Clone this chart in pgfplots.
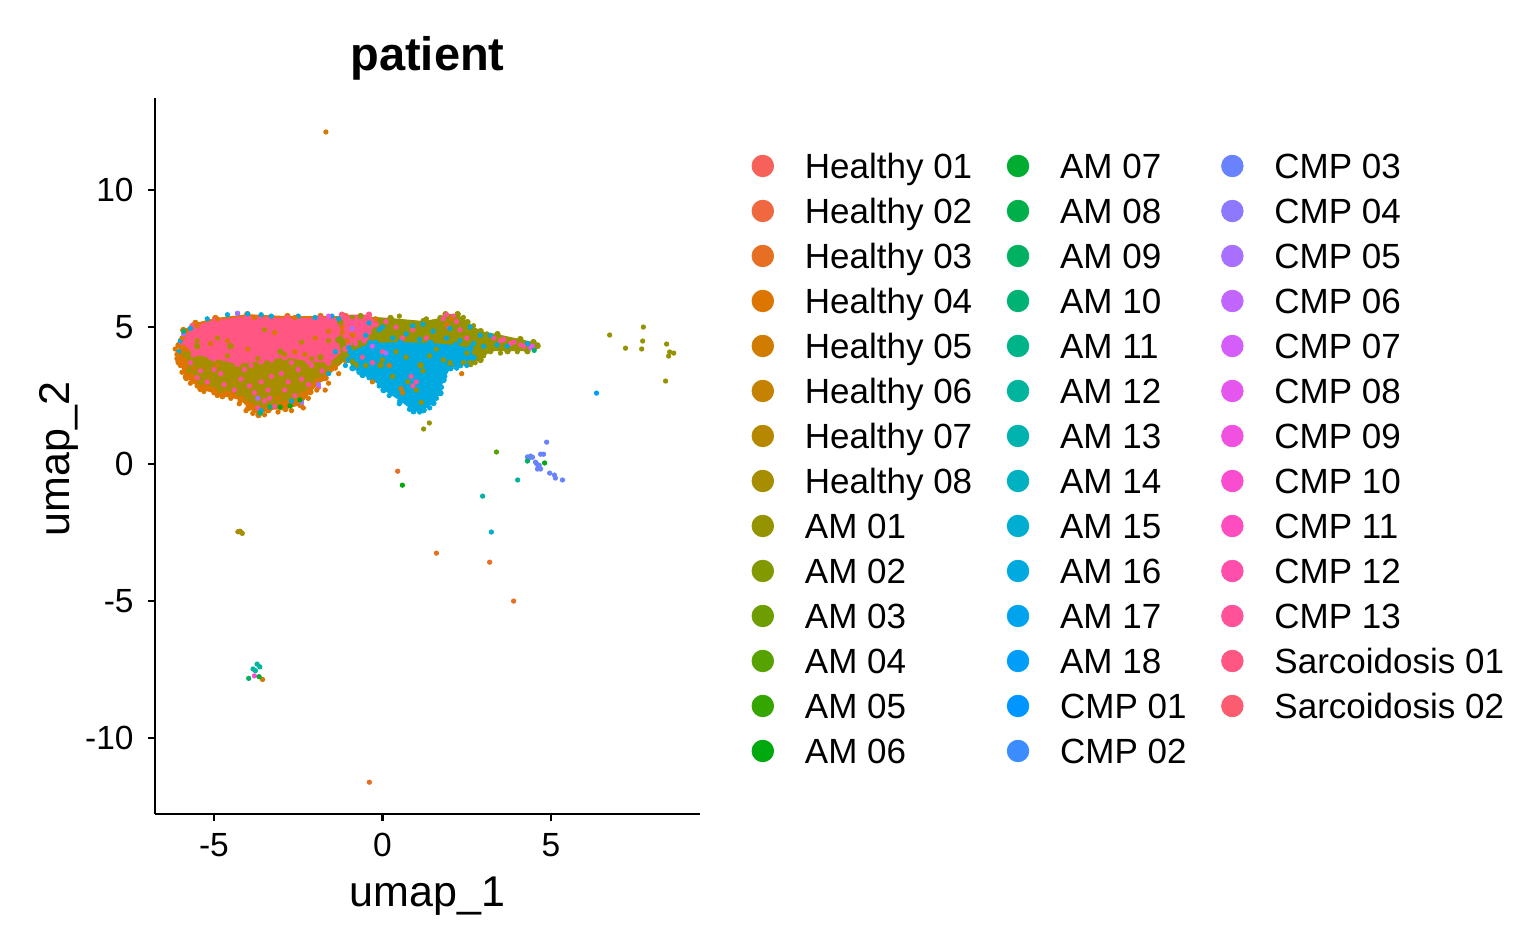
\documentclass[border=0pt]{standalone}
\usepackage{fontspec}
\setmainfont{Liberation Sans}
\usepackage{pgfplots}
\pgfplotsset{compat=1.18}

% ggplot2 hue palette (hcl, l=65, c=100), 41 levels, with the reference's darker rendering
\newcommand\mkhue[2]{%
  \pgfmathsetmacro\hclU{100*cos(#2)}%
  \pgfmathsetmacro\hclV{100*sin(#2)}%
  \pgfmathsetmacro\hclup{\hclU/845+0.19784}%
  \pgfmathsetmacro\hclvp{\hclV/845+0.46834}%
  \pgfmathsetmacro\hclX{0.34047*9*\hclup/(4*\hclvp)}%
  \pgfmathsetmacro\hclZ{0.34047*(12-3*\hclup-20*\hclvp)/(4*\hclvp)}%
  \pgfmathsetmacro\hclR{3.2406*\hclX-1.5372*0.34047-0.4986*\hclZ}%
  \pgfmathsetmacro\hclG{-0.9689*\hclX+1.8758*0.34047+0.0415*\hclZ}%
  \pgfmathsetmacro\hclB{0.0557*\hclX-0.2040*0.34047+1.0570*\hclZ}%
  \pgfmathsetmacro\hclR{min(1,pow(max(0.0001,1.055*pow(max(\hclR,0.0001),1/2.4)-0.055),1.25))}%
  \pgfmathsetmacro\hclG{min(1,pow(max(0.0001,1.055*pow(max(\hclG,0.0001),1/2.4)-0.055),1.25))}%
  \pgfmathsetmacro\hclB{min(1,pow(max(0.0001,1.055*pow(max(\hclB,0.0001),1/2.4)-0.055),1.25))}%
  \edef\hcltmp{\noexpand\definecolor{#1}{rgb}{\hclR,\hclG,\hclB}}\hcltmp
}
\pgfplotsforeachungrouped \i in {1,...,41}{%
  \pgfmathsetmacro\hh{15+(\i-1)*360/41}%
  \mkhue{c\i}{\hh}%
}

\pgfplotsset{
  dots/.style={forget plot, only marks, mark=*, mark size=1.1pt, color=#1},
  blob/.style={forget plot, fill=#1, draw=none, mark=*, mark size=1.4pt, mark options={color=#1}},
}
\newcommand\legitem[2]{\addlegendimage{color=#1}\addlegendentry{#2}}

\begin{document}
\begin{tikzpicture}
\useasboundingbox (0,0) rectangle (770pt,475.5pt);
\begin{axis}[
  at={(77.5pt,68.5pt)}, anchor=south west,
  scale only axis, width=272.5pt, height=358pt,
  xmin=-6.75, xmax=9.42, ymin=-12.77, ymax=13.36,
  axis x line*=bottom, axis y line*=left,
  axis line style={-, line width=1.25pt, black},
  xtick={-5,0,5}, ytick={-10,-5,0,5,10},
  tick align=outside, major tick length=3.5pt,
  tick style={line width=1.25pt, black},
  /pgf/number format/assume math mode=true,
  ticklabel style={font=\fontsize{16.75}{20}\selectfont, inner sep=0pt},
  xticklabel style={anchor=north}, xticklabel shift=6pt,
  yticklabel style={anchor=east}, yticklabel shift=7pt,
  title={patient},
  title style={at={(axis description cs:0.5,1.0223)}, anchor=base, font=\bfseries\fontsize{23.5}{28}\selectfont, inner sep=0pt},
  xlabel={umap\_1},
  xlabel style={at={(axis description cs:0.5,-0.1295)}, anchor=base, font=\fontsize{21.5}{26}\selectfont, inner sep=0pt},
  ylabel={umap\_2},
  ylabel style={at={(axis description cs:-0.156,0.496)}, anchor=base, font=\fontsize{21.5}{26}\selectfont, inner sep=0pt},
  legend columns=3,
  legend image code/.code={\fill[#1] (5.4pt,6.25pt) circle (5.4pt);},
  legend style={at={(axis description cs:1.0947,0.9225)}, anchor=north west,
    draw=none, fill=none, inner sep=0pt, outer sep=0pt,
    row sep=6.5pt,
    /tikz/every odd column/.append style={column sep=15.45pt},
    /tikz/every even column/.append style={column sep=17.3pt},
    cells={anchor=base west},
    nodes={inner sep=0pt, text height=12.5pt, text depth=3.5pt, font=\fontsize{17.5}{21}\selectfont}},
]
% ---- legend (column-major order of the original, written row by row)
\legitem{c1}{Healthy 01}\legitem{c15}{AM 07}\legitem{c29}{CMP 03}
\legitem{c2}{Healthy 02}\legitem{c16}{AM 08}\legitem{c30}{CMP 04}
\legitem{c3}{Healthy 03}\legitem{c17}{AM 09}\legitem{c31}{CMP 05}
\legitem{c4}{Healthy 04}\legitem{c18}{AM 10}\legitem{c32}{CMP 06}
\legitem{c5}{Healthy 05}\legitem{c19}{AM 11}\legitem{c33}{CMP 07}
\legitem{c6}{Healthy 06}\legitem{c20}{AM 12}\legitem{c34}{CMP 08}
\legitem{c7}{Healthy 07}\legitem{c21}{AM 13}\legitem{c35}{CMP 09}
\legitem{c8}{Healthy 08}\legitem{c22}{AM 14}\legitem{c36}{CMP 10}
\legitem{c9}{AM 01}\legitem{c23}{AM 15}\legitem{c37}{CMP 11}
\legitem{c10}{AM 02}\legitem{c24}{AM 16}\legitem{c38}{CMP 12}
\legitem{c11}{AM 03}\legitem{c25}{AM 17}\legitem{c39}{CMP 13}
\legitem{c12}{AM 04}\legitem{c26}{AM 18}\legitem{c40}{Sarcoidosis 01}
\legitem{c13}{AM 05}\legitem{c27}{CMP 01}\legitem{c41}{Sarcoidosis 02}
\legitem{c14}{AM 06}\legitem{c28}{CMP 02}

% ---- dense cell cloud (areas)
\addplot[blob=c4] coordinates {(-6.05,4.34) (-5.91,4.89) (-5.55,5.15) (-4.96,5.33) (-4.01,5.47) (-2.82,5.40) (-1.84,5.40) (-1.10,5.40) (-0.89,4.71) (-1.10,3.80) (-1.69,3.14) (-2.14,2.63) (-2.43,2.15) (-2.88,2.01) (-3.38,1.97) (-3.68,1.79) (-3.98,2.04) (-4.21,2.34) (-4.75,2.48) (-5.40,2.74) (-5.82,3.14) (-6.05,3.72)};
\addplot[blob=c8] coordinates {(-5.85,4.0) (-5.5,4.3) (-4.51,4.3) (-3.03,4.1) (-1.84,3.9) (-1.25,3.9) (-1.31,3.72) (-1.84,3.25) (-2.28,2.77) (-2.58,2.41) (-3.18,2.23) (-3.68,2.04) (-3.98,2.34) (-4.27,2.59) (-4.81,2.70) (-5.40,2.99) (-5.73,3.43)};
\addplot[blob=c40] coordinates {(-5.95,4.45) (-5.64,5.04) (-4.96,5.26) (-4.01,5.40) (-2.82,5.33) (-1.84,5.33) (-1.10,5.33) (-0.89,4.89) (-1.10,4.2) (-1.6,3.7) (-2.2,3.75) (-2.9,3.9) (-3.6,3.75) (-4.3,3.65) (-5.0,3.85) (-5.6,4.0)};
\addplot[blob=c9] coordinates {(-1.25,5.18) (-0.65,5.40) (0.24,5.33) (1.22,5.22) (1.72,5.33) (1.87,5.47) (2.23,5.47) (2.52,5.18) (2.91,4.85) (3.41,4.74) (4.09,4.56) (4.48,4.45) (4.60,4.31) (4.30,4.12) (3.71,4.12) (3.20,4.12) (2.91,3.80) (2.61,3.65) (2.02,3.58) (1.13,3.61) (-0.06,3.61) (-0.80,3.61) (-1.19,3.87) (-1.31,4.53)};
\addplot[blob=c40] coordinates {(-1.2,5.45) (-0.4,5.45) (-0.2,5.1) (-0.5,4.6) (-1.0,4.4) (-1.3,4.8)};
\addplot[blob=c24] coordinates {(-0.95,4.09) (-0.36,4.42) (0.53,4.45) (1.42,4.42) (2.17,4.34) (2.61,4.23) (2.70,3.87) (2.31,3.61) (2.02,3.50) (1.81,3.07) (1.72,2.59) (1.51,2.23) (1.22,1.97) (0.92,1.93) (0.53,2.30) (0.03,2.70) (-0.27,3.07) (-0.59,3.25) (-0.89,3.50) (-1.01,3.80)};

% ---- individual cells
\addplot[dots=c7] coordinates {(-5.3,3.55) (-4.6,3.95) (-3.7,3.85) (-2.9,4.0) (-2.1,3.85) (-4.9,4.6) (-3.5,4.9) (-2.4,4.45) (-5.5,4.5) (-1.6,4.5) (-4.4,3.0) (-3.0,2.5) (-5.1,3.2)};
\addplot[dots=c9] coordinates {(0.3,3.2) (1.0,2.7) (1.8,3.8) (2.4,3.7) (0.0,3.8) (0.7,3.9) (1.4,3.95) (2.0,3.7) (-0.5,3.6) (1.2,3.4) (2.8,4.85) (3.1,4.75) (4.6,4.35) (4.5,4.2) (-0.9,3.75) (0.4,4.1) (1.6,4.2) (2.5,4.05) (1.15,2.25) (0.75,3.0) (3.0,3.95) (2.75,3.7) (3.5,4.05) (4.0,4.1) (-0.9,5.35) (0.5,5.4) (1.3,5.3) (2.4,5.35) (2.7,5.05)
 (6.74,4.71) (7.74,5.0) (7.21,4.23) (7.72,4.49) (7.69,4.20) (8.43,4.38) (8.52,4.09) (8.64,4.05) (8.49,3.94) (8.40,3.03) (1.39,1.50) (1.22,1.28)};
\addplot[dots=c8] coordinates {(-4.23,-2.45) (-4.16,-2.53) (-4.29,-2.47) (-4.2,-2.49)};
\addplot[dots=c39] coordinates {(-5.7,3.7) (-5.4,3.4) (-5.1,3.9) (-4.8,3.3) (-4.5,3.8) (-4.2,3.1) (-3.9,3.6) (-3.6,3.0) (-3.3,3.8) (-3.0,3.3) (-2.7,3.7) (-2.4,3.1) (-2.1,3.6) (-1.8,3.4) (-5.2,3.0) (-4.7,2.9) (-3.8,2.6) (-3.5,2.3) (-3.2,2.1) (-3.7,2.05) (-2.9,2.7) (-2.6,2.5) (-4.4,2.7) (-1.5,3.9) (-3.4,2.7) (-2.2,2.9) (-1.9,2.8) (-5.0,3.45) (-4.1,3.45) (-3.3,3.2) (-2.5,3.45) (-3.95,2.85) (-3.35,2.4) (-2.8,3.0) (-5.5,3.15)
 (-0.9,5.2) (-0.6,5.1) (-0.3,5.25) (-0.7,4.9) (-1.0,4.6) (-0.4,4.8) (-0.8,4.4) (0.1,5.2) (0.4,5.0) (0.9,4.9) (1.3,4.6) (1.8,5.3) (1.9,5.45) (2.1,5.4) (2.2,5.2) (1.95,5.0) (3.3,4.6) (3.5,4.5) (3.6,4.55) (3.8,4.4) (3.9,4.45) (4.1,4.35) (4.2,4.3) (2.3,4.9) (0.0,4.1) (-0.55,4.5) (0.6,4.6) (1.0,3.0) (0.9,2.85) (0.85,3.2) (-0.6,3.9) (-0.3,3.7) (2.5,4.6)};
\addplot[dots=c24] coordinates {(-4.6,5.45) (-4.3,5.5) (-4.0,5.48) (-3.6,5.45) (-3.3,5.4) (-5.2,5.3) (-5.7,4.95) (-6.0,4.5) (-6.05,4.1) (-2.5,5.4) (-2.0,5.35) (-1.5,5.4) (-1.3,5.3) (-1.6,3.3) (-1.1,3.6) (-2.7,2.3) (-3.6,1.95) (-1.4,4.1) (-1.0,4.25)
 (-0.5,4.7) (-0.1,4.9) (0.3,4.6) (0.7,4.75) (1.1,4.55) (1.5,4.85) (1.9,4.6) (2.3,4.5) (2.7,4.4) (3.0,4.3) (3.4,4.35) (3.7,4.3) (4.3,4.4) (-0.2,4.45) (0.5,4.35) (0.0,5.0) (1.2,5.1) (2.0,4.95) (2.9,4.7) (1.7,4.3) (4.4,4.25) (3.2,4.7) (2.6,5.0) (0.9,5.05) (-0.4,5.15)
 (0.2,2.5) (0.5,2.2) (0.8,2.0) (1.1,1.9) (1.4,2.05) (1.6,2.4) (1.75,2.8) (1.85,3.2) (-0.1,2.85) (-0.4,3.15) (-0.7,3.35) (2.2,3.5) (2.5,3.6) (1.0,2.05) (1.2,1.95)};
\addplot[dots=c4] coordinates {(-6.1,4.0) (-6.0,3.6) (-5.85,3.2) (-5.95,4.6) (-5.5,2.85) (-5.0,2.6) (-4.4,2.5) (-4.0,2.2) (-3.4,1.95) (-3.0,2.05) (-2.5,2.3) (-2.2,2.65) (-1.8,3.1) (-1.4,3.5) (-1.05,4.5) (-1.2,5.0) (-2.6,5.35) (-3.8,5.35) (-4.9,5.3) (-5.5,5.05) (-4.6,4.5) (-3.2,4.8) (-2.0,4.6) (-1.6,4.85) (-5.1,4.4) (-2.6,4.1) (-4.0,4.2) (0.2,3.6) (0.55,2.75) (-1.7,2.7) (2.35,3.3) (-0.2,5.3) (2.05,5.3) (1.9,5.1)
 (-6.15,4.2) (-6.1,3.85) (-5.95,3.35) (-5.7,2.95) (-5.3,2.65) (-4.9,2.5) (-4.5,2.4) (-4.25,2.2) (-4.05,1.95) (-3.85,1.85) (-3.5,1.8) (-3.1,1.9) (-2.7,1.95) (-2.35,2.05) (-2.2,2.4) (-1.95,2.7) (-1.6,2.95) (-1.3,3.3)};
\addplot[dots=c5] coordinates {(-5.6,3.5) (-4.9,3.6) (-3.1,2.4) (-2.3,4.0) (-1.2,4.8) (0.6,2.6) (-0.3,3.0) (-1.68,12.12) (-3.56,-7.86)};
\addplot[dots=c31] coordinates {(-4.3,5.5) (-1.9,2.9) (-5.9,4.75) (0.1,4.05) (-3.7,2.4) (-0.9,4.95) (-2.4,2.25)};
\addplot[dots=c34] coordinates {(4.4,4.25) (-0.3,4.3) (-1.6,5.4) (4.45,4.3)};
\addplot[dots=c14] coordinates {(-3.04,2.08) (-2.74,2.12) (-2.45,2.34) (4.81,0.04) (0.59,-0.77)};
\addplot[dots=c18] coordinates {(-3.34,2.08) (-3.63,1.86) (-5.9,4.85) (4.5,4.15)};
% outlying cells
\addplot[dots=c29] coordinates {(4.87,0.80) (4.30,0.26) (4.39,0.29) (4.35,0.22) (4.45,0.25) (4.69,0.36) (4.78,0.36) (4.54,0.07) (4.58,0.0) (4.65,-0.05) (4.63,-0.11) (4.69,-0.18) (4.60,-0.18) (4.96,-0.33) (5.10,-0.40) (5.13,-0.51) (5.34,-0.58)};
\addplot[dots=c17] coordinates {(4.30,0.11) (-3.97,-7.82)};
\addplot[dots=c12] coordinates {(3.38,0.44)};
\addplot[dots=c26] coordinates {(6.35,2.59)};
\addplot[dots=c3] coordinates {(0.45,-0.26) (1.60,-3.25) (3.18,-3.58) (3.89,-5.00) (-0.39,-11.61)};
\addplot[dots=c20] coordinates {(4.01,-0.58) (2.97,-1.17) (-3.72,-7.30) (-3.64,-7.40) (-3.84,-7.48) (-3.77,-7.54)};
\addplot[dots=c22] coordinates {(3.23,-2.48)};
\addplot[dots=c36] coordinates {(-3.80,-7.73)};
\addplot[dots=c15] coordinates {(-3.66,-7.76)};
\end{axis}
\end{tikzpicture}
\end{document}
